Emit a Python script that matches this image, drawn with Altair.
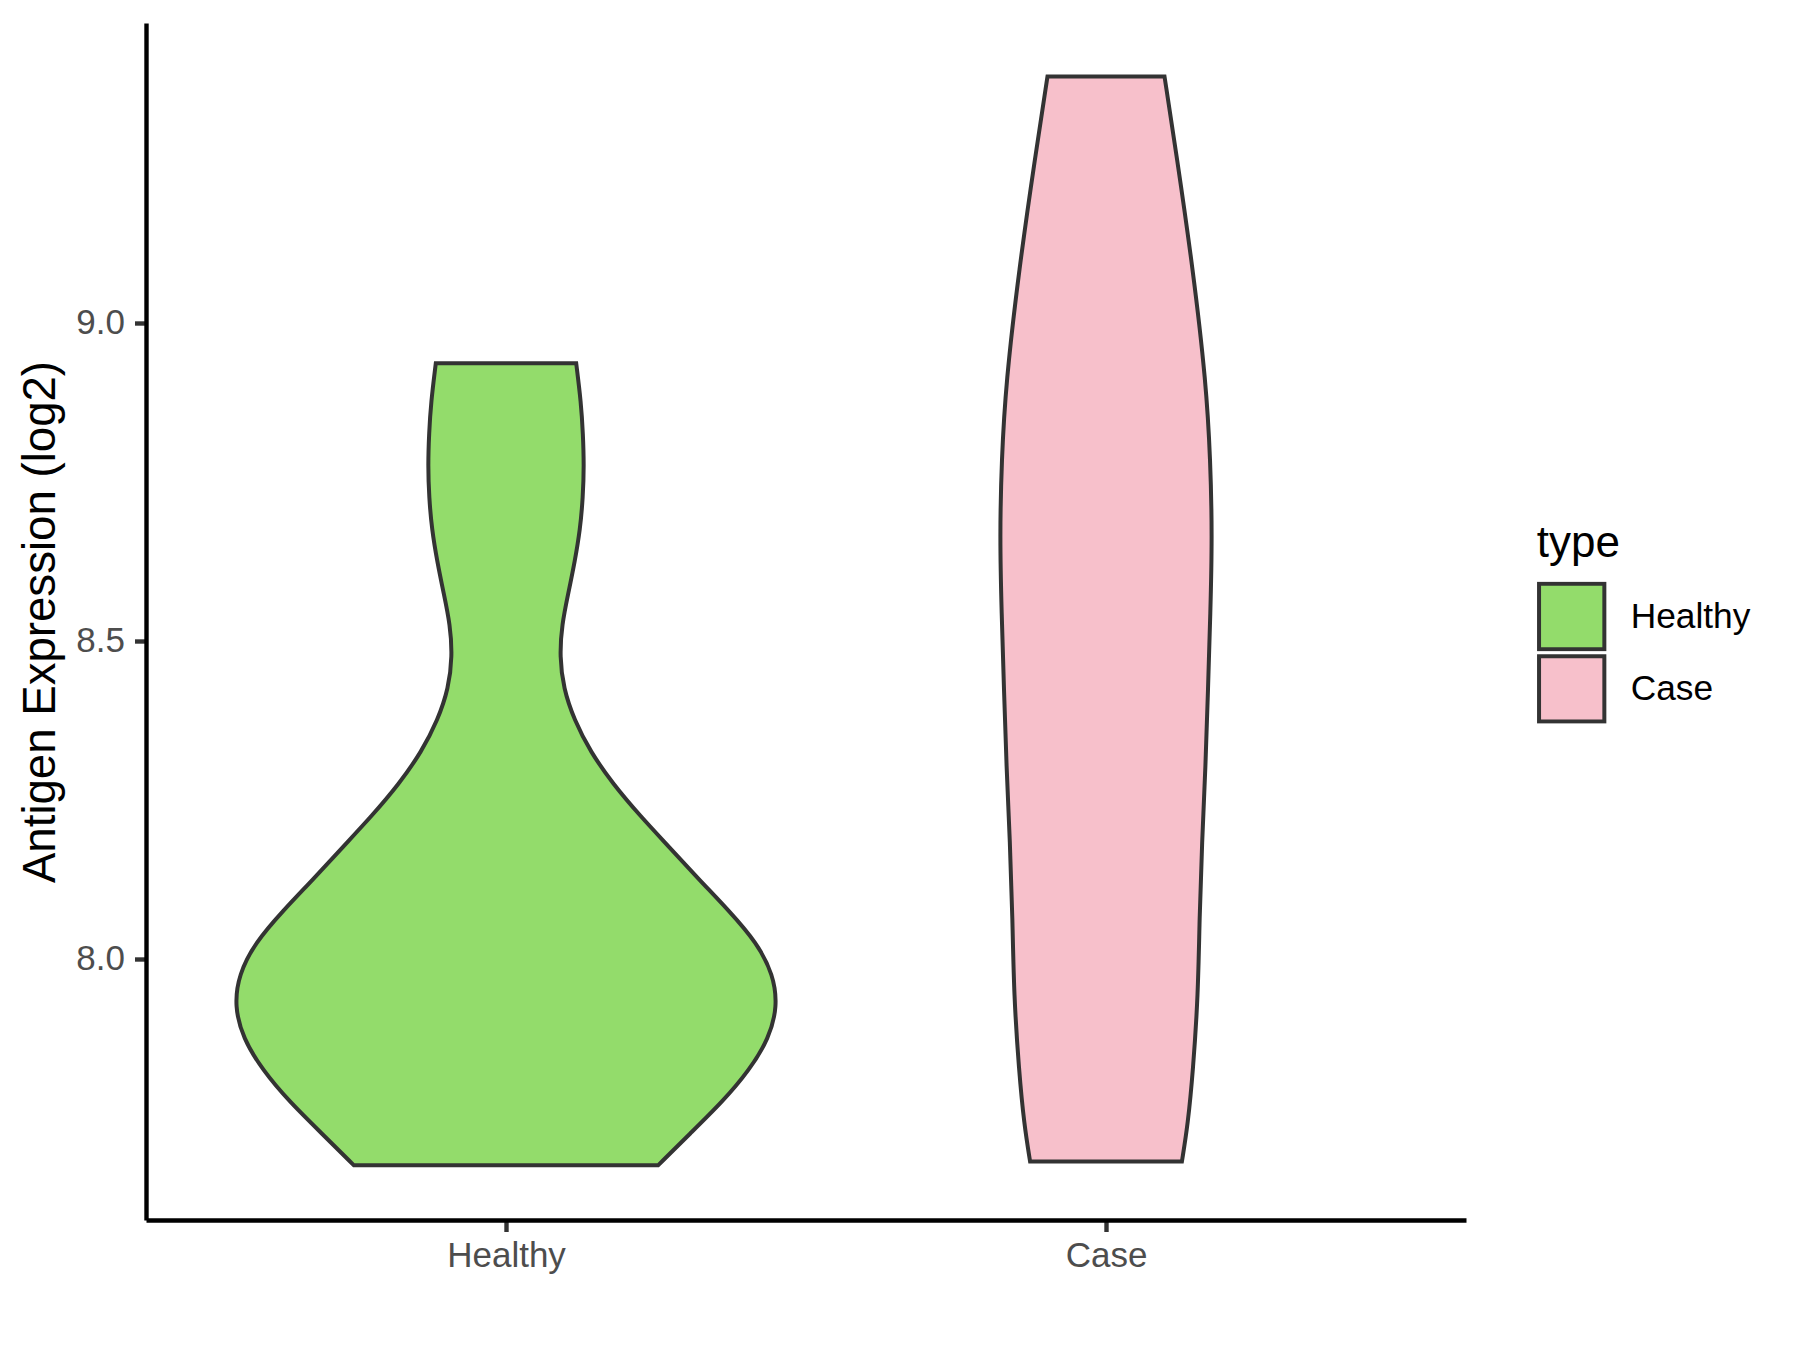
import altair as alt
import pandas as pd

# ---- data ----
categories = ["Healthy", "Case"]
positions = [1, 2]
fill_colors = ["#93DC6B", "#F7C0CB"]

# Healthy violin outline: expression value (log2) and half-width (x units)
healthy_y = [7.675, 7.725, 7.775, 7.825, 7.875, 7.925, 7.975, 8.025, 8.075, 8.125,
             8.175, 8.225, 8.275, 8.325, 8.375, 8.425, 8.475, 8.525, 8.575, 8.625,
             8.675, 8.725, 8.775, 8.825, 8.875, 8.936]
healthy_hw = [0.2535, 0.3070, 0.3610, 0.4060, 0.4385, 0.4525, 0.4455, 0.4180, 0.3720, 0.3210,
              0.2725, 0.2230, 0.1780, 0.1408, 0.1137, 0.0957, 0.0895, 0.0930, 0.1040, 0.1148,
              0.1236, 0.1282, 0.1300, 0.1283, 0.1250, 0.1170]

# Case violin outline
case_y = [7.681, 7.739, 7.823, 7.943, 8.063, 8.183, 8.303, 8.423, 8.543, 8.664,
          8.784, 8.904, 9.084, 9.264, 9.387]
case_hw = [0.1265, 0.1364, 0.1450, 0.1535, 0.1558, 0.1600, 0.1660, 0.1700, 0.1740, 0.1770,
           0.1740, 0.1670, 0.1450, 0.1175, 0.0975]

y_ticks = [8.0, 8.5, 9.0]

rows = []
for cat, pos, ys, hws in [("Healthy", 1, healthy_y, healthy_hw), ("Case", 2, case_y, case_hw)]:
    for y, hw in zip(ys, hws):
        rows.append({"type": cat, "y": y, "x_left": pos - hw, "x_right": pos + hw})
df = pd.DataFrame(rows)

FONT = "Liberation Sans"

legend = alt.Legend(
    title="type", orient="none", legendX=1390.7, legendY=498.5,
    symbolType="square", symbolSize=4264, symbolStrokeColor="#333333",
    symbolStrokeWidth=4, symbolOpacity=1,
    titleFontSize=44, titleColor="black", titleFont=FONT, titleFontWeight="normal",
    labelFontSize=35.3, labelColor="black", labelFont=FONT, labelOffset=24,
    titlePadding=16, clipHeight=70, rowPadding=2.3, padding=0, offset=0,
)

chart = alt.Chart(df).mark_area(
    orient="horizontal", interpolate="basis",
    stroke="#333333", strokeWidth=4, opacity=1, strokeJoin="miter",
).encode(
    y=alt.Y("y:Q", scale=alt.Scale(domain=[7.589, 9.471], nice=False, zero=False),
            axis=alt.Axis(title="Antigen Expression (log2)", values=y_ticks, format=".1f",
                          grid=False, domainColor="black", domainWidth=4.4,
                          tickColor="#333333", tickWidth=4.4, tickSize=11.5,
                          labelPadding=10, labelFontSize=35, labelColor="#4D4D4D", labelFont=FONT,
                          titleFontSize=45.6, titleColor="black", titleFont=FONT,
                          titleFontWeight="normal", titlePadding=11.5)),
    x=alt.X("x_left:Q", scale=alt.Scale(domain=[0.4, 2.6], nice=False, zero=False),
            axis=alt.Axis(title=None, values=positions,
                          labelExpr="datum.value == 1 ? 'Healthy' : 'Case'",
                          grid=False, domainColor="black", domainWidth=4.4,
                          tickColor="#333333", tickWidth=4.4, tickSize=11.5,
                          labelPadding=6.8, labelFontSize=35, labelColor="#4D4D4D", labelFont=FONT)),
    x2="x_right:Q",
    color=alt.Color("type:N", scale=alt.Scale(domain=categories, range=fill_colors), legend=legend),
).properties(
    width=1320, height=1197,
    autosize=alt.AutoSizeParams(type="none"),
    padding={"left": 138, "top": 15, "right": 326, "bottom": 110},
).configure(background="white").configure_view(stroke=None, strokeWidth=0)

chart.save("out.html", embed_options={"renderer": "svg", "actions": False})
